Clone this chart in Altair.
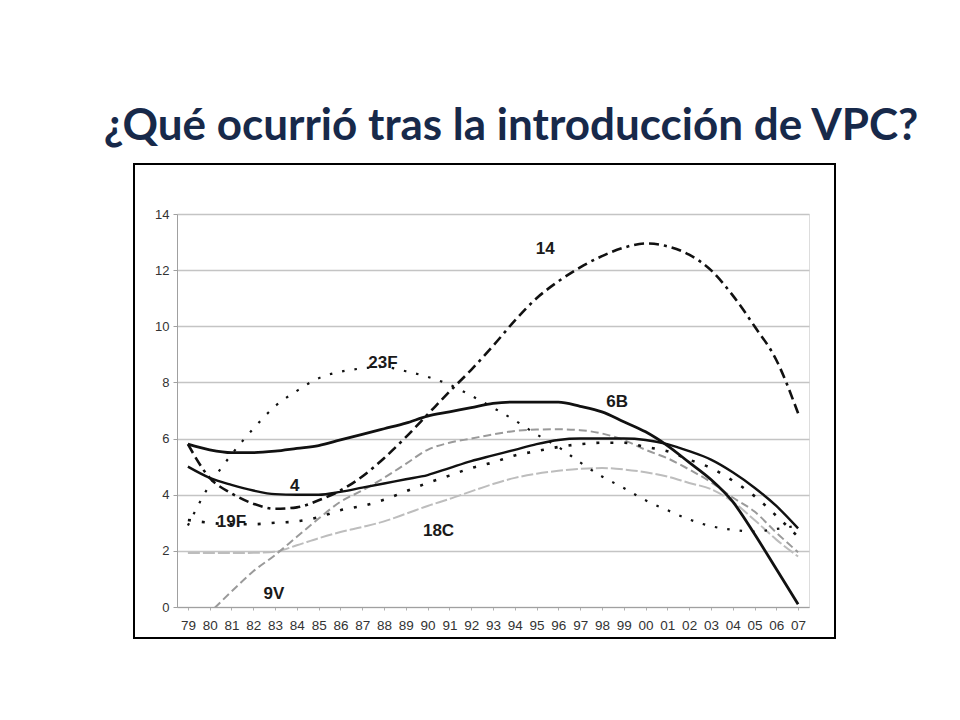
import altair as alt
import pandas as pd

# ---- data ----
years = list(range(1979, 2008))

s_14 = [5.8, 4.6, 4.05, 3.68, 3.5, 3.55, 3.8, 4.15, 4.65, 5.3, 6.05, 6.86, 7.67, 8.45, 9.3,
        10.2, 11.0, 11.6, 12.1, 12.5, 12.8, 12.95, 12.85, 12.55, 12.0, 11.1, 10.0, 8.8, 6.9]
s_23F = [2.9, 4.35, 5.43, 6.35, 7.15, 7.7, 8.15, 8.38, 8.5, 8.55, 8.4, 8.2, 7.92, 7.53, 7.1,
         6.65, 6.15, 5.7, 5.15, 4.65, 4.24, 3.8, 3.45, 3.12, 2.88, 2.75, 2.69, 2.78, 2.9]
s_6B = [5.8, 5.6, 5.5, 5.5, 5.55, 5.65, 5.75, 5.95, 6.15, 6.35, 6.55, 6.8, 6.95, 7.1, 7.25,
        7.3, 7.3, 7.3, 7.15, 6.95, 6.6, 6.24, 5.75, 5.15, 4.54, 3.75, 2.6, 1.35, 0.1]
s_4 = [5.0, 4.6, 4.35, 4.15, 4.02, 4.0, 4.0, 4.1, 4.25, 4.4, 4.55, 4.7, 4.95, 5.2, 5.4,
       5.6, 5.8, 5.95, 6.0, 6.0, 6.0, 5.95, 5.8, 5.55, 5.25, 4.8, 4.25, 3.6, 2.8]
s_19F = [3.1, 3.0, 2.95, 2.95, 3.0, 3.05, 3.2, 3.45, 3.6, 3.82, 4.12, 4.42, 4.68, 4.95, 5.15,
         5.4, 5.55, 5.7, 5.8, 5.85, 5.85, 5.7, 5.55, 5.25, 4.95, 4.5, 3.95, 3.25, 2.5]
s_18C = [1.92, 1.92, 1.92, 1.93, 1.97, 2.2, 2.45, 2.67, 2.85, 3.05, 3.32, 3.6, 3.85, 4.12, 4.38,
         4.6, 4.75, 4.85, 4.92, 4.95, 4.9, 4.8, 4.65, 4.42, 4.2, 3.75, 3.1, 2.4, 1.8]
s_9V = [-0.9, -0.2, 0.55, 1.27, 1.85, 2.5, 3.15, 3.75, 4.15, 4.6, 5.1, 5.6, 5.85, 6.0, 6.15,
        6.27, 6.32, 6.33, 6.3, 6.18, 5.95, 5.6, 5.3, 4.9, 4.45, 3.9, 3.4, 2.65, 1.95]

label_text = ["14", "23F", "6B", "4", "19F", "18C", "9V"]
label_year = [1995.4, 1987.95, 1998.7, 1983.9, 1981.0, 1990.5, 1982.95]
label_value = [12.75, 8.7, 7.3, 4.3, 3.02, 2.69, 0.45]

title_text = "¿Qué ocurrió tras la introducción de VPC?"

series = {"14": s_14, "23F": s_23F, "6B": s_6B, "4": s_4,
          "19F": s_19F, "18C": s_18C, "9V": s_9V}

# ---- styles (kept separate from the data) ----
styles = [
    ("18C", dict(color="#bdbdbd", strokeWidth=2, strokeDash=[12, 3])),
    ("9V", dict(color="#9a9a9a", strokeWidth=2, strokeDash=[8, 4])),
    ("19F", dict(color="#111111", strokeWidth=2.6, strokeDash=[3, 11])),
    ("23F", dict(color="#111111", strokeWidth=2.2, strokeDash=[2.5, 10])),
    ("14", dict(color="#111111", strokeWidth=2.6, strokeDash=[10, 5, 10, 5, 3, 5])),
    ("4", dict(color="#111111", strokeWidth=2.4)),
    ("6B", dict(color="#111111", strokeWidth=2.8)),
]

rows = []
for name, vals in series.items():
    for y, v in zip(years, vals):
        rows.append({"serie": name, "year": y, "value": v})
df = pd.DataFrame(rows)

labels_df = pd.DataFrame({"text": label_text, "year": label_year, "value": label_value})

W, H = 632, 393

x_enc = alt.X("year:Q",
              scale=alt.Scale(domain=[1978.5, 2007.5], nice=False, zero=False),
              axis=alt.Axis(values=years, labelExpr="slice(toString(datum.value), 2)",
                            title=None, grid=False, tickSize=3, labelPadding=8,
                            labelFontSize=13.5, labelColor="#333333", labelFont="Liberation Sans",
                            domainColor="#a0a0a0", tickColor="#b0b0b0", labelFlush=False,
                            labelOverlap=False))
y_enc = alt.Y("value:Q",
              scale=alt.Scale(domain=[0, 14], nice=False),
              axis=alt.Axis(values=[0, 2, 4, 6, 8, 10, 12, 14], title=None, grid=True,
                            gridColor="#c4c4c4", gridWidth=1.5, tickSize=4, labelPadding=4,
                            labelFontSize=13, labelColor="#333333", labelFont="Liberation Sans",
                            domainColor="#a0a0a0", tickColor="#a0a0a0"))

layers = []
for name, st in styles:
    sub = df[df["serie"] == name]
    kw = dict(color=st["color"], strokeWidth=st["strokeWidth"], interpolate="monotone", clip=True)
    if "strokeDash" in st:
        kw["strokeDash"] = st["strokeDash"]
    layers.append(alt.Chart(sub).mark_line(**kw).encode(x=x_enc, y=y_enc))

text_layer = alt.Chart(labels_df).mark_text(
    font="Liberation Sans", fontSize=17, fontWeight="bold", color="#1a1a1a",
    align="center", baseline="middle"
).encode(x=x_enc, y=y_enc, text="text:N")

frame = alt.Chart(labels_df.head(1)).mark_rect(
    filled=False, stroke="#000000", strokeWidth=2
).encode(x=alt.value(-43), x2=alt.value(658), y=alt.value(-50), y2=alt.value(424))

chart = alt.layer(frame, *layers, text_layer).properties(
    width=W, height=H,
    title=alt.TitleParams(title_text, font="Lato", fontSize=44, fontWeight="bold",
                          color="#17294a", anchor="middle", dx=18, offset=14),
    autosize=alt.AutoSizeParams(type="none"),
    padding={"left": 169, "top": 206, "right": 143, "bottom": 90},
).configure_view(stroke="#c4c4c4", strokeWidth=1.5).configure(background="white")

chart.save("out.html", embed_options={"renderer": "svg", "actions": False})
